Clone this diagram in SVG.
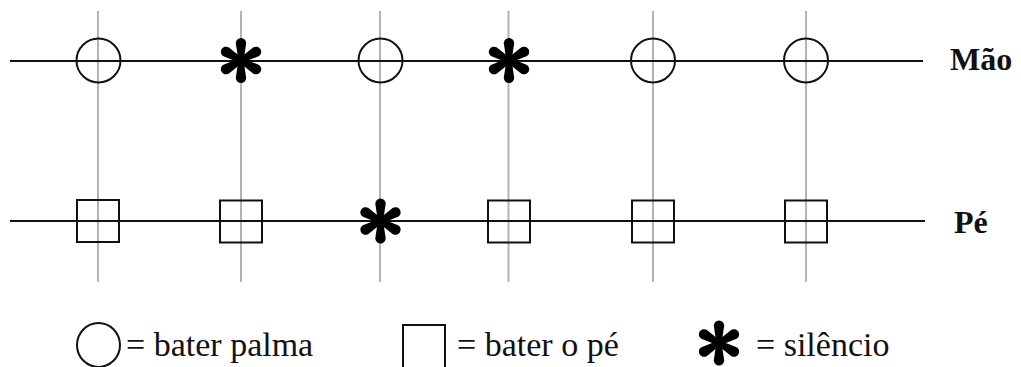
<svg xmlns="http://www.w3.org/2000/svg" width="1021" height="367" viewBox="0 0 1021 367">
  <style>
    .grid { stroke: #b3b3b3; stroke-width: 2; }
    .track { stroke: #111; stroke-width: 2; }
    .shape { fill: none; stroke: #111; stroke-width: 2; }
    text { font-family: 'Liberation Serif', 'Times New Roman', Times, 'DejaVu Serif', serif; fill: #111; }
    .label { font-weight: bold; font-size: 32px; }
    .legend { font-size: 34px; }
  </style>
  <defs>
    <g id="star">
      <path id="spoke" d="M-2.6,0 L-5.2,-17.3 A5.2,5.2 0 0 1 5.2,-17.3 L2.6,0 Z" fill="#000"/>
      <use href="#spoke" transform="rotate(60)"/>
      <use href="#spoke" transform="rotate(120)"/>
      <use href="#spoke" transform="rotate(180)"/>
      <use href="#spoke" transform="rotate(240)"/>
      <use href="#spoke" transform="rotate(300)"/>
      <circle r="4.5" fill="#000"/>
    </g>
  </defs>

  <g id="connectors">
    <line class="grid" x1="98" y1="11" x2="98" y2="282"/>
    <line class="grid" x1="241" y1="11" x2="241" y2="282"/>
    <line class="grid" x1="380" y1="11" x2="380" y2="282"/>
    <line class="grid" x1="508.5" y1="11" x2="508.5" y2="282"/>
    <line class="grid" x1="653" y1="11" x2="653" y2="282"/>
    <line class="grid" x1="806" y1="11" x2="806" y2="282"/>
    <line class="track" x1="10" y1="61" x2="923" y2="61"/>
    <line class="track" x1="10" y1="221" x2="925" y2="221"/>
  </g>

  <g id="mao-1"><circle class="shape" cx="98.5" cy="60.5" r="22"/></g>
  <g id="mao-2"><use href="#star" x="241" y="60.5"/></g>
  <g id="mao-3"><circle class="shape" cx="380.5" cy="60.5" r="22"/></g>
  <g id="mao-4"><use href="#star" x="509" y="60.5"/></g>
  <g id="mao-5"><circle class="shape" cx="653" cy="60.5" r="22"/></g>
  <g id="mao-6"><circle class="shape" cx="806" cy="60.5" r="22"/></g>
  <g id="label-mao"><text class="label" x="950" y="70">Mão</text></g>

  <g id="pe-1"><rect class="shape" x="77" y="200" width="42" height="42"/></g>
  <g id="pe-2"><rect class="shape" x="220" y="200.5" width="42" height="42"/></g>
  <g id="pe-3"><use href="#star" x="380.5" y="221"/></g>
  <g id="pe-4"><rect class="shape" x="488" y="200.5" width="42" height="42"/></g>
  <g id="pe-5"><rect class="shape" x="632" y="200.5" width="42" height="42"/></g>
  <g id="pe-6"><rect class="shape" x="785" y="200.5" width="42" height="42"/></g>
  <g id="label-pe"><text class="label" x="954" y="233">Pé</text></g>

  <g id="legend-circle">
    <ellipse class="shape" cx="98.5" cy="345" rx="21.5" ry="22"/>
    <text class="legend" x="126" y="356">= bater palma</text>
  </g>
  <g id="legend-square">
    <rect class="shape" x="403" y="325" width="42" height="45"/>
    <text class="legend" x="457" y="356">= bater o pé</text>
  </g>
  <g id="legend-star">
    <use href="#star" x="719" y="343"/>
    <text class="legend" x="756" y="356">= silêncio</text>
  </g>
</svg>
